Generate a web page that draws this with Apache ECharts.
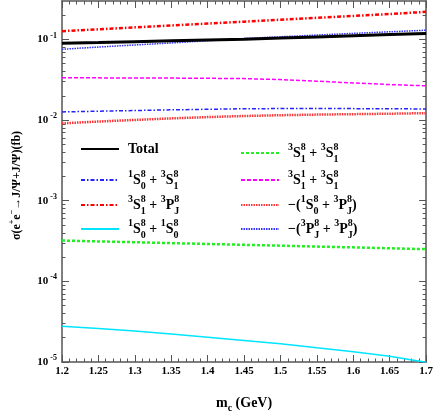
<!DOCTYPE html>
<html><head><meta charset="utf-8">
<script src="https://cdn.jsdelivr.net/npm/echarts@6/dist/echarts.min.js"></script>
<style>html,body{margin:0;padding:0;background:#fff}#c{width:436px;height:418px}</style>
</head><body><div id="c"></div>
<script>
// ---- data ----
const mc = [1.2, 1.25, 1.3, 1.35, 1.4, 1.45, 1.5, 1.55, 1.6, 1.65, 1.7];
const total      = [0.0897, 0.0918, 0.0940, 0.0962, 0.0985, 0.1008, 0.1040, 0.1075, 0.1112, 0.1150, 0.1190];
const s1S0_3S1   = [0.01264, 0.0129, 0.01315, 0.0134, 0.01362, 0.01382, 0.0139, 0.01392, 0.01388, 0.01382, 0.01375];
const s3S1_3PJ   = [0.1267, 0.1338, 0.1413, 0.1492, 0.1575, 0.1663, 0.1757, 0.1855, 0.1959, 0.2068, 0.2202];
const s1S0_1S0   = [2.77e-5, 2.60e-5, 2.42e-5, 2.22e-5, 2.03e-5, 1.85e-5, 1.68e-5, 1.50e-5, 1.34e-5, 1.18e-5, 0.99e-5];
const s3S1_3S1   = [3.21e-4, 3.13e-4, 3.06e-4, 2.98e-4, 2.91e-4, 2.84e-4, 2.77e-4, 2.70e-4, 2.64e-4, 2.57e-4, 2.51e-4];
const s3S1c_3S1  = [0.0334, 0.0334, 0.0333, 0.0332, 0.0330, 0.0327, 0.0318, 0.0304, 0.0289, 0.0276, 0.0266];
const m1S0_3PJ   = [0.00912, 0.0096, 0.01005, 0.0105, 0.0109, 0.01124, 0.0115, 0.0117, 0.01185, 0.0120, 0.0122];
const m3PJ_3PJ   = [0.0756, 0.0805, 0.0855, 0.0905, 0.0965, 0.1027, 0.1080, 0.1135, 0.1190, 0.1245, 0.1302];

const yMin = 1e-5, yMax = 0.3;
const yMajorExps = [-5, -4, -3, -2, -1];
const yMinorMult = [2, 3, 4, 5, 6, 7, 8, 9];
const xTickStep = 0.05;

const seriesNames = ['Total', '1S08+3S18', '3S18+3PJ8', '1S08+1S08', '3S18+3S18b', '3S11+3S18', 'm1S08+3PJ8', 'm3PJ8+3PJ8'];

// ---- helpers ----
const F = '"Liberation Serif", "Times New Roman", serif';
const lg = Math.log10;
function term(pre, L, sup, sub) {
  return '{sp|' + pre + '}{b|' + L + '}{spz|' + sup + '}{sb|' + sub + '}';
}
const legendText = {
  'Total': '{b|Total}',
  '1S08+3S18': term('1','S','8','0') + '{b| + }' + term('3','S','8','1'),
  '3S18+3PJ8': term('3','S','8','1') + '{b| + }' + term('3','P','8','J'),
  '1S08+1S08': term('1','S','8','0') + '{b| + }' + term('1','S','8','0'),
  '3S18+3S18b': term('3','S','8','1') + '{b| + }' + term('3','S','8','1'),
  '3S11+3S18': term('3','S','1','1') + '{b| + }' + term('3','S','8','1'),
  'm1S08+3PJ8': '{b|−(}' + term('1','S','8','0') + '{b| + }' + term('3','P','8','J') + '{b|)}',
  'm3PJ8+3PJ8': '{b|−(}' + term('3','P','8','J') + '{b| + }' + term('3','P','8','J') + '{b|)}'
};
const legendRich = {
  g:   {fontFamily: F, fontSize: 14, width: 4, lineHeight: 22},
  b:   {fontFamily: F, fontWeight: 'bold', fontSize: 14, lineHeight: 22, color: '#000'},
  sp:  {fontFamily: F, fontWeight: 'bold', fontSize: 10, lineHeight: 18, verticalAlign: 'top', color: '#000'},
  spz: {fontFamily: F, fontWeight: 'bold', fontSize: 10, lineHeight: 18, verticalAlign: 'top', width: 0, color: '#000'},
  sb:  {fontFamily: F, fontWeight: 'bold', fontSize: 10, lineHeight: 14, verticalAlign: 'bottom', color: '#000'}
};

const axisColor = '#555';
const majorY = yMajorExps.slice();
const minorY = [];
yMajorExps.forEach(e => yMinorMult.forEach(m => { const v = lg(m * Math.pow(10, e)); if (v <= lg(yMax)) minorY.push(v); }));

function yAxisDef(pos, minor, withLabels) {
  return {
    type: 'value', position: pos, min: lg(yMin), max: lg(yMax), scale: true,
    splitLine: {show: false},
    axisLine: {show: !minor, lineStyle: {color: axisColor, width: 1.5}},
    axisTick: {show: true, inside: true, length: minor ? 3.5 : 7, customValues: minor ? minorY : majorY,
               lineStyle: {color: axisColor, width: 1}},
    axisLabel: withLabels ? {
      show: true, customValues: majorY, margin: 5,
      formatter: v => '{b|10}{s|' + Math.round(v) + '}',
      rich: {
        b: {fontFamily: F, fontWeight: 'bold', fontSize: 11, color: '#000', lineHeight: 16},
        s: {fontFamily: F, fontWeight: 'bold', fontSize: 8, color: '#000', lineHeight: 16, verticalAlign: 'top', padding: [0, 0, 0, 2]}
      }
    } : {show: false},
    name: withLabels ? '{n|σ(e}{s|+}{n|e}{s|−}{n|→J/Ψ+J/Ψ)(fb)}' : '',
    nameLocation: 'middle', nameRotate: 90, nameGap: 36,
    nameTextStyle: {padding: [0, 8, 0, 0], rich: {
      n: {fontFamily: F, fontWeight: 'bold', fontSize: 12, color: '#000', lineHeight: 18},
      s: {fontFamily: F, fontWeight: 'bold', fontSize: 8, color: '#000', lineHeight: 12, verticalAlign: 'top'}
    }}
  };
}
function xAxisDef(pos, withLabels) {
  return {
    type: 'value', position: pos, min: 1.2, max: 1.7, interval: xTickStep,
    splitLine: {show: false},
    axisLine: {show: true, lineStyle: {color: axisColor, width: 1.5}},
    axisTick: {show: true, inside: true, length: 7, lineStyle: {color: axisColor, width: 1}},
    minorTick: {show: true, splitNumber: 5, length: 3.5, lineStyle: {color: axisColor, width: 1}},
    axisLabel: withLabels ? {show: true, margin: 4, fontFamily: F, fontWeight: 'bold', fontSize: 11, color: '#000'} : {show: false},
    name: withLabels ? '{b|m}{s|c}{b| (GeV)}' : '',
    nameLocation: 'middle', nameGap: 31,
    nameTextStyle: {rich: {
      b: {fontFamily: F, fontWeight: 'bold', fontSize: 14, color: '#000', lineHeight: 20},
      s: {fontFamily: F, fontWeight: 'bold', fontSize: 10, color: '#000', lineHeight: 12, verticalAlign: 'bottom'}
    }}
  };
}

const seriesData = [total, s1S0_3S1, s3S1_3PJ, s1S0_1S0, s3S1_3S1, s3S1c_3S1, m1S0_3PJ, m3PJ_3PJ];
const styles = [
  {color: '#000000', width: 3, type: 'solid'},
  {color: '#2222ff', width: 1.5, type: [4, 2, 1.5, 2]},
  {color: '#ff0000', width: 2.5, type: [4, 2, 1.5, 2]},
  {color: '#00e5ff', width: 1.5, type: 'solid'},
  {color: '#22ee22', width: 2.5, type: [3, 2]},
  {color: '#ff00ff', width: 1.5, type: [4, 2]},
  {color: '#ff3333', width: 2.5, type: [1.5, 1]},
  {color: '#3333ff', width: 1.5, type: [1.5, 1]}
];

const series = seriesNames.map((name, i) => ({
  name: name, type: 'line', xAxisIndex: 0, yAxisIndex: 0,
  showSymbol: false, symbol: 'none', smooth: false, clip: true, animation: false,
  lineStyle: styles[i], itemStyle: {color: styles[i].color},
  data: mc.map((x, k) => [x, lg(seriesData[i][k])]),
  z: i === 0 ? 3 : 2
}));

// legend layout: 2 columns x 4 rows (icon centre y per row)
const rowCentres = [149, 176, 201, 225];
const colLefts = [80, 240];
const legends = seriesNames.map((name, i) => ({
  data: [name], orient: 'vertical',
  left: colLefts[Math.floor(i / 4)], top: rowCentres[i % 4] - 7, padding: 0,
  itemWidth: 38, itemHeight: 14, selectedMode: false,
  itemStyle: {opacity: 0, borderWidth: 0},
  formatter: n => '{g| }' + legendText[n],
  textStyle: {rich: legendRich}
}));

const chart = echarts.init(document.getElementById('c'), null, {renderer: 'canvas'});
chart.setOption({
  animation: false,
  backgroundColor: '#fff',
  grid: {left: 50, right: 6, top: 1, bottom: 39},
  xAxis: [xAxisDef('bottom', true), xAxisDef('top', false)],
  yAxis: [yAxisDef('left', false, true), yAxisDef('left', true, false), yAxisDef('right', false, false), yAxisDef('right', true, false)],
  legend: legends,
  series: series
});
</script></body></html>
